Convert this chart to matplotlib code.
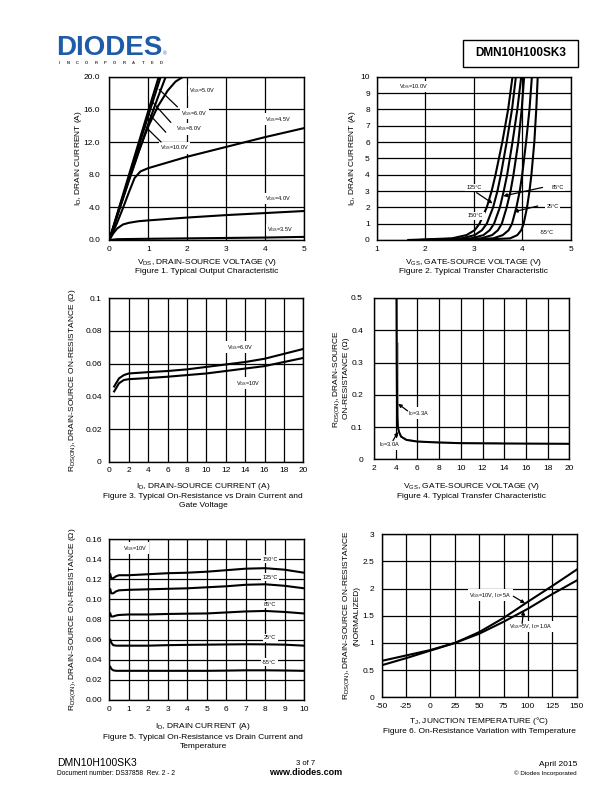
import matplotlib
matplotlib.use("Agg")
import matplotlib.pyplot as plt
from matplotlib.patches import Rectangle

plt.rcParams['font.family'] = ['Liberation Sans', 'DejaVu Sans']
plt.rcParams['mathtext.fontset'] = 'custom'
plt.rcParams['mathtext.rm'] = 'Liberation Sans'
plt.rcParams['mathtext.it'] = 'Liberation Sans:italic'
plt.rcParams['mathtext.bf'] = 'Liberation Sans:bold'

# ---- Figure 1: output characteristic (VDS, ID) per VGS
vds_10v = [0, 0.5, 1.0, 1.27]
id_10v = [0, 7.9, 15.8, 20.0]
vds_8v = [0, 0.5, 1.0, 1.32]
id_8v = [0, 7.6, 15.2, 20.0]
vds_6v = [0, 0.5, 1.0, 1.25, 1.45]
id_6v = [0, 7.2, 14.2, 17.5, 20.0]
vds_5v = [0, 0.25, 0.5, 0.75, 1.0, 1.25, 1.5, 1.7, 1.9]
id_5v = [0, 3.7, 7.3, 10.8, 13.9, 16.4, 18.3, 19.4, 20.0]
vds_45v = [0, 0.2, 0.35, 0.5, 0.65, 0.8, 1.0, 2, 3, 4, 5]
id_45v = [0, 2.1, 3.9, 5.8, 7.6, 8.4, 8.8, 10.2, 11.4, 12.6, 13.7]
vds_4v = [0, 0.1, 0.2, 0.35, 0.5, 0.75, 1, 2, 3, 4, 5]
id_4v = [0, 0.8, 1.4, 1.9, 2.1, 2.3, 2.4, 2.75, 3.05, 3.3, 3.55]
vds_35v = [0, 0.2, 1, 2, 3, 4, 5]
id_35v = [0, 0.1, 0.15, 0.2, 0.25, 0.3, 0.38]

# ---- Figure 2: transfer characteristic, VGS at given ID for each temperature
id_tr = [0, 0.1, 0.3, 0.6, 1, 2, 3, 4, 6, 8, 10]
vgs_150 = [1.65, 2.55, 2.85, 3.02, 3.12, 3.27, 3.37, 3.45, 3.59, 3.71, 3.80]
vgs_125 = [1.9, 2.75, 3.02, 3.17, 3.27, 3.40, 3.49, 3.56, 3.68, 3.79, 3.87]
vgs_85 = [2.1, 2.95, 3.2, 3.33, 3.42, 3.54, 3.62, 3.69, 3.80, 3.90, 3.98]
vgs_55 = [2.3, 3.15, 3.38, 3.50, 3.58, 3.68, 3.76, 3.82, 3.92, 3.99, 4.04]
vgs_25 = [2.6, 3.4, 3.6, 3.72, 3.79, 3.88, 3.95, 4.0, 4.08, 4.15, 4.20]
vgs_m55 = [3.0, 3.75, 3.9, 3.98, 4.03, 4.1, 4.15, 4.19, 4.25, 4.29, 4.32]

# ---- Figure 3: RDS(on) vs ID
id_r = [0.5, 1, 1.5, 2, 4, 6, 8, 10, 12, 14, 16, 18, 20]
r_6v = [0.046, 0.051, 0.053, 0.054, 0.0548, 0.0555, 0.0565, 0.058, 0.0595, 0.061, 0.063, 0.066, 0.069]
r_10v = [0.043, 0.048, 0.050, 0.0505, 0.0512, 0.052, 0.053, 0.054, 0.0555, 0.057, 0.0585, 0.061, 0.0635]

# ---- Figure 4: RDS(on) vs VGS
vgs_a = [4.08, 4.1, 4.12, 4.15, 4.2, 4.3, 4.5, 5, 6, 8, 10, 14, 20]
r_33a = [0.5, 0.3, 0.2, 0.13, 0.1, 0.085, 0.07, 0.06, 0.055, 0.052, 0.05, 0.049, 0.048]
vgs_b = [4.22, 4.22, 4.25, 4.35, 4.6, 5, 6, 7, 10, 13.7]
r_30a = [0.36, 0.12, 0.095, 0.08, 0.068, 0.061, 0.056, 0.054, 0.051, 0.050]

# ---- Figure 5: RDS(on) vs ID and temperature
id_t = [0.05, 0.1, 0.2, 0.35, 0.5, 1, 2, 3, 4, 5, 6, 7, 8, 9, 10]
r_150 = [0.125, 0.121, 0.121, 0.123, 0.124, 0.124, 0.125, 0.126, 0.1265, 0.1275, 0.129, 0.1305, 0.131, 0.1295, 0.1265]
r_125 = [0.110, 0.106, 0.106, 0.108, 0.109, 0.1095, 0.110, 0.1105, 0.111, 0.112, 0.113, 0.1145, 0.115, 0.1135, 0.111]
r_85 = [0.086, 0.083, 0.083, 0.084, 0.0845, 0.085, 0.085, 0.0855, 0.0858, 0.086, 0.087, 0.088, 0.0885, 0.0875, 0.086]
r_25 = [0.060, 0.057, 0.0545, 0.054, 0.054, 0.054, 0.054, 0.0545, 0.0548, 0.055, 0.0552, 0.0554, 0.0553, 0.055, 0.054]
r_m55 = [0.033, 0.031, 0.0295, 0.029, 0.029, 0.029, 0.029, 0.029, 0.029, 0.029, 0.0292, 0.0295, 0.0295, 0.0293, 0.029]

# ---- Figure 6: normalized RDS(on) vs Tj
tj = [-50, -25, 0, 25, 50, 75, 100, 125, 150]
rn_10v = [0.59, 0.72, 0.86, 1.0, 1.2, 1.46, 1.76, 2.05, 2.35]
rn_5v = [0.67, 0.77, 0.87, 1.0, 1.17, 1.39, 1.63, 1.9, 2.15]

W, H = 612, 792
fig = plt.figure(figsize=(6.12, 7.92), dpi=100)


def px_axes(l, t, r, b):
    return fig.add_axes([l / W, 1 - b / H, (r - l) / W, (b - t) / H])


def txt(x, y, s, **kw):
    fig.text(x / W, 1 - y / H, s, **kw)


def style(ax, xlim, ylim, xt, yt, xl, yl, ypad, xpad=4):
    ax.set_xlim(xlim)
    ax.set_ylim(ylim)
    ax.set_xticks(xt)
    ax.set_yticks(yt)
    ax.set_xticklabels(xl)
    ax.set_yticklabels(yl)
    ax.tick_params(length=0, labelsize=6)
    ax.tick_params(axis='y', pad=ypad)
    ax.tick_params(axis='x', pad=xpad)
    ax.grid(True, color='black', lw=0.9)
    for s in ax.spines.values():
        s.set_linewidth(1.0)


def lab(ax, x, y, s, fs=4, ha='left'):
    ax.text(x, y, s, fontsize=fs, ha=ha, va='center', zorder=5,
            bbox=dict(fc='white', ec='none', pad=1.0))


def arrow(ax, xy, xytext, head=True):
    ax.annotate('', xy=xy, xytext=xytext, zorder=6,
                arrowprops=dict(arrowstyle='-|>' if head else '-', color='black',
                                lw=0.9, mutation_scale=5, shrinkA=0, shrinkB=0))


LW = 1.5
VGS = r'V$_\mathregular{GS}$'

# ---------------- Figure 1
ax1 = px_axes(109.3, 76.7, 304, 240)
for x, y in [(vds_10v, id_10v), (vds_8v, id_8v), (vds_6v, id_6v), (vds_5v, id_5v),
             (vds_45v, id_45v), (vds_4v, id_4v), (vds_35v, id_35v)]:
    ax1.plot(x, y, color='black', lw=LW)
style(ax1, (0, 5), (0, 20), range(6), [0, 4, 8, 12, 16, 20],
      [str(i) for i in range(6)], ['0.0', '4.0', '8.0', '12.0', '16.0', '20.0'], 6.5)
lab(ax1, 2.05, 18.3, VGS + '=5.0V')
lab(ax1, 1.85, 15.5, VGS + '=6.0V')
lab(ax1, 1.72, 13.6, VGS + '=8.0V')
lab(ax1, 1.30, 11.3, VGS + '=10.0V')
lab(ax1, 4.0, 14.8, VGS + '=4.5V')
lab(ax1, 4.0, 5.1, VGS + '=4.0V')
lab(ax1, 4.05, 1.3, VGS + '=3.5V')
arrow(ax1, (1.28, 18.45), (1.75, 16.3), head=False)
arrow(ax1, (1.11, 16.9), (1.58, 14.4), head=False)
arrow(ax1, (0.99, 15.6), (1.45, 13.2), head=False)
arrow(ax1, (0.88, 14.1), (1.33, 12.0), head=False)
txt(206.7, 262.7, r'V$_\mathregular{DS}$, DRAIN-SOURCE VOLTAGE (V)', fontsize=6, ha='center', va='center')
txt(206.7, 271.3, 'Figure 1. Typical Output Characteristic', fontsize=6, ha='center', va='center')
txt(78, 158.3, r'I$_\mathregular{D}$, DRAIN CURRENT (A)', fontsize=6, ha='center', va='center', rotation=90)

# ---------------- Figure 2
ax2 = px_axes(376.7, 76.7, 570.7, 240)
for v in [vgs_150, vgs_125, vgs_85, vgs_55, vgs_25, vgs_m55]:
    ax2.plot(v, id_tr, color='black', lw=LW)
style(ax2, (1, 5), (0, 10), range(1, 6), range(11),
      [str(i) for i in range(1, 6)], [str(i) for i in range(11)], 5)
lab(ax2, 1.45, 9.4, r'V$_\mathregular{DS}$=10.0V')
lab(ax2, 2.85, 3.22, '125°C')
lab(ax2, 4.6, 3.22, '85°C')
lab(ax2, 4.5, 2.08, '25°C')
lab(ax2, 2.88, 1.47, '150°C')
lab(ax2, 4.36, 0.45, '-55°C')
arrow(ax2, (3.39, 2.24), (3.06, 2.9))
arrow(ax2, (3.61, 2.69), (4.42, 3.22))
arrow(ax2, (3.83, 1.73), (4.32, 2.08))
txt(473.3, 262.7, r'V$_\mathregular{GS}$, GATE-SOURCE VOLTAGE (V)', fontsize=6, ha='center', va='center')
txt(473.3, 271.3, 'Figure 2. Typical Transfer Characteristic', fontsize=6, ha='center', va='center')
txt(352, 158.3, r'I$_\mathregular{D}$, DRAIN CURRENT (A)', fontsize=6, ha='center', va='center', rotation=90)

# ---------------- Figure 3
ax3 = px_axes(109.3, 298.3, 303.3, 461.7)
ax3.plot(id_r, r_6v, color='black', lw=LW)
ax3.plot(id_r, r_10v, color='black', lw=LW)
style(ax3, (0, 20), (0, 0.1), range(0, 21, 2), [0, 0.02, 0.04, 0.06, 0.08, 0.1],
      [str(i) for i in range(0, 21, 2)], ['0', '0.02', '0.04', '0.06', '0.08', '0.1'], 5.5)
lab(ax3, 12.1, 0.070, VGS + '=6.0V')
lab(ax3, 13.1, 0.048, VGS + '=10V')
txt(203.3, 486.7, r'I$_\mathregular{D}$, DRAIN-SOURCE CURRENT (A)', fontsize=6, ha='center', va='center')
txt(203.3, 496.3, 'Figure 3. Typical On-Resistance vs Drain Current and', fontsize=6, ha='center', va='center')
txt(203.3, 505.3, 'Gate Voltage', fontsize=6, ha='center', va='center')
txt(73, 380, r'R$_\mathregular{DS(ON)}$, DRAIN-SOURCE ON-RESISTANCE (Ω)', fontsize=6, ha='center', va='center', rotation=90)

# ---------------- Figure 4
ax4 = px_axes(374, 298, 569.3, 459.3)
ax4.plot(vgs_b, r_30a, color='#999999', lw=0.9)
ax4.plot(vgs_a, r_33a, color='black', lw=LW)
style(ax4, (2, 20), (0, 0.5), range(2, 21, 2), [0, 0.1, 0.2, 0.3, 0.4, 0.5],
      [str(i) for i in range(2, 21, 2)], ['0', '0.1', '0.2', '0.3', '0.4', '0.5'], 8)
lab(ax4, 5.1, 0.143, r'I$_\mathregular{D}$=3.3A')
lab(ax4, 2.5, 0.047, r'I$_\mathregular{D}$=3.0A')
arrow(ax4, (4.22, 0.172), (5.1, 0.150))
arrow(ax4, (4.22, 0.085), (3.75, 0.058))
txt(471.7, 486.7, r'V$_\mathregular{GS}$, GATE-SOURCE VOLTAGE (V)', fontsize=6, ha='center', va='center')
txt(471.7, 496.3, 'Figure 4. Typical Transfer Characteristic', fontsize=6, ha='center', va='center')
txt(337, 378.7, r'R$_\mathregular{DS(ON)}$, DRAIN-SOURCE', fontsize=6, ha='center', va='center', rotation=90)
txt(346.5, 378.7, 'ON-RESISTANCE (Ω)', fontsize=6, ha='center', va='center', rotation=90)

# ---------------- Figure 5
ax5 = px_axes(109.3, 539, 304, 700)
for r in [r_150, r_125, r_85, r_25, r_m55]:
    ax5.plot(id_t, r, color='black', lw=LW)
yt5 = [0, 0.02, 0.04, 0.06, 0.08, 0.10, 0.12, 0.14, 0.16]
style(ax5, (0, 10), (0, 0.16), range(11), yt5,
      [str(i) for i in range(11)], ['%.2f' % v for v in yt5], 5)
lab(ax5, 0.7, 0.151, VGS + '=10V')
lab(ax5, 7.85, 0.140, '150°C')
lab(ax5, 7.85, 0.122, '125°C')
lab(ax5, 7.95, 0.095, '85°C')
lab(ax5, 7.95, 0.062, '25°C')
lab(ax5, 7.85, 0.0375, '-55°C')
txt(203.3, 726.3, r'I$_\mathregular{D}$, DRAIN CURRENT (A)', fontsize=6, ha='center', va='center')
txt(203.3, 737.7, 'Figure 5. Typical On-Resistance vs Drain Current and', fontsize=6, ha='center', va='center')
txt(203.3, 746.7, 'Temperature', fontsize=6, ha='center', va='center')
txt(73, 619.5, r'R$_\mathregular{DS(ON)}$, DRAIN-SOURCE ON-RESISTANCE (Ω)', fontsize=6, ha='center', va='center', rotation=90)

# ---------------- Figure 6
ax6 = px_axes(381.7, 534.3, 576.7, 697.3)
ax6.plot(tj, rn_10v, color='black', lw=LW)
ax6.plot(tj, rn_5v, color='black', lw=LW)
style(ax6, (-50, 150), (0, 3), range(-50, 151, 25), [0, 0.5, 1, 1.5, 2, 2.5, 3],
      [str(i) for i in range(-50, 151, 25)], ['0', '0.5', '1', '1.5', '2', '2.5', '3'], 5.5)
lab(ax6, 40, 1.88, VGS + r'=10V, I$_\mathregular{D}$=5A')
lab(ax6, 81, 1.30, VGS + r'=5V, I$_\mathregular{D}$=1.0A')
arrow(ax6, (97, 1.73), (85, 1.86))
arrow(ax6, (95.5, 1.59), (94, 1.36))
txt(479.3, 721, r'T$_\mathregular{J}$, JUNCTION TEMPERATURE (°C)', fontsize=6, ha='center', va='center')
txt(479.3, 731.7, 'Figure 6. On-Resistance Variation with Temperature', fontsize=6, ha='center', va='center')
txt(347, 615.8, r'R$_\mathregular{DS(ON)}$, DRAIN-SOURCE ON-RESISTANCE', fontsize=6, ha='center', va='center', rotation=90)
txt(357, 615.8, '(NORMALIZED)', fontsize=6, ha='center', va='center', rotation=90)

# ---------------- header
txt(56, 55, 'DIODES', fontsize=20, fontweight='bold', color='#1f5ca8', ha='left', va='baseline')
txt(163, 55, '®', fontsize=3.5, color='#1f5ca8', ha='left', va='baseline')
for i, ch in enumerate('INCORPORATED'):
    txt(59 + i * 9.3, 63.5, ch, fontsize=3.0, fontweight='bold', color='#333333',
        ha='center', va='center')
fig.patches.append(Rectangle((463 / W, 1 - 67 / H), 115 / W, 27 / H, transform=fig.transFigure,
                             fill=False, ec='black', lw=1.0))
txt(520.5, 53.5, 'DMN10H100SK3', fontsize=8.5, fontweight='bold', ha='center', va='center')

# ---------------- footer
txt(57, 766, 'DMN10H100SK3', fontsize=7.5, ha='left', va='baseline')
txt(57, 775, 'Document number: DS37858  Rev. 2 - 2', fontsize=4.8, ha='left', va='baseline')
txt(306, 765, '3 of 7', fontsize=5.5, ha='center', va='baseline')
txt(306, 775, 'www.diodes.com', fontsize=6.5, fontweight='bold', ha='center', va='baseline')
txt(577, 766, 'April 2015', fontsize=6, ha='right', va='baseline')
txt(577, 774.5, '© Diodes Incorporated', fontsize=4.5, ha='right', va='baseline')

fig.savefig('out.png', dpi=100)
